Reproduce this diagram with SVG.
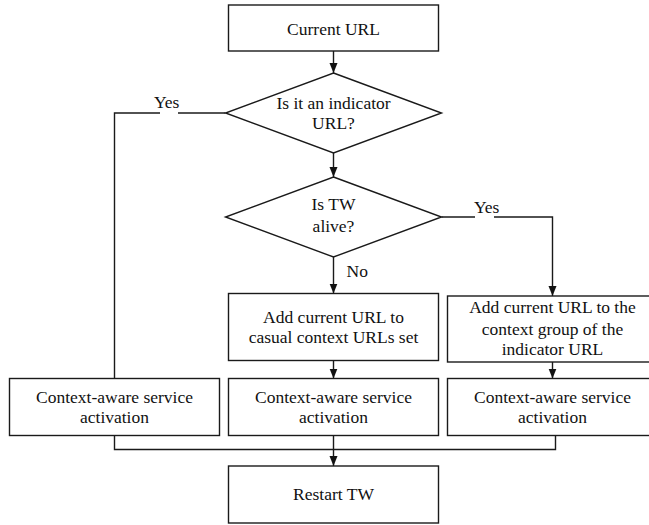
<svg xmlns="http://www.w3.org/2000/svg" width="649" height="525" viewBox="0 0 649 525">
<defs>
<style>
.box{fill:#fff;stroke:#1a1a1a;stroke-width:1.4}
.ln{fill:none;stroke:#1a1a1a;stroke-width:1.4}
text{font-family:'Liberation Serif','DejaVu Serif',serif;font-size:17.5px;fill:#111;text-anchor:middle}
</style>
<marker id="ah" viewBox="0 0 10 10" refX="10" refY="5" markerWidth="10" markerHeight="10" markerUnits="userSpaceOnUse" orient="auto">
<path d="M0,1 L10,5 L0,9 Z" fill="#111"/>
</marker>
</defs>
<rect width="649" height="525" fill="#fff"/>
<g id="connectors">
<path class="ln" d="M333.5,51 V73" marker-end="url(#ah)"/>
<path class="ln" d="M333.5,153 V177" marker-end="url(#ah)"/>
<path class="ln" d="M225.5,113 H178"/>
<path class="ln" d="M160,113 H114.5 V378.5"/>
<path class="ln" d="M441.5,217 H475"/>
<path class="ln" d="M494,217 H552.5 V296" marker-end="url(#ah)"/>
<path class="ln" d="M333.5,257 V293.5" marker-end="url(#ah)"/>
<path class="ln" d="M333.5,360.5 V378.5" marker-end="url(#ah)"/>
<path class="ln" d="M552.5,362 V378.5" marker-end="url(#ah)"/>
<path class="ln" d="M114.5,435.5 V449.5 H555.5 V435.5"/>
<path class="ln" d="M333.5,435.5 V466" marker-end="url(#ah)"/>
<text x="166.7" y="108">Yes</text>
<text x="486.7" y="213">Yes</text>
<text x="346.5" y="277" style="text-anchor:start">No</text>
</g>
<g id="current-url">
<rect class="box" x="228.5" y="5" width="210" height="46"/>
<text x="333.5" y="35">Current URL</text>
</g>
<g id="is-indicator">
<polygon class="box" points="333.5,73 441.5,113 333.5,153 225.5,113"/>
<text x="333.5" y="108.5">Is it an indicator</text>
<text x="333.5" y="129">URL?</text>
</g>
<g id="is-tw-alive">
<polygon class="box" points="333.5,177 441.5,217 333.5,257 225.5,217"/>
<text x="333.5" y="210">Is TW</text>
<text x="333.5" y="231.5">alive?</text>
</g>
<g id="add-casual">
<rect class="box" x="228.5" y="293.5" width="210" height="67"/>
<text x="333.5" y="322.7">Add current URL to</text>
<text x="333.5" y="343.3">casual context URLs set</text>
</g>
<g id="add-group">
<rect class="box" x="447.5" y="296" width="211" height="66"/>
<text x="552.5" y="312.7">Add current URL to the</text>
<text x="552.5" y="335">context group of the</text>
<text x="552.5" y="355.3">indicator URL</text>
</g>
<g id="activation-left">
<rect class="box" x="9.5" y="378.5" width="210" height="57"/>
<text x="114.5" y="402.7">Context-aware service</text>
<text x="114.5" y="423">activation</text>
</g>
<g id="activation-mid">
<rect class="box" x="228.5" y="378.5" width="210" height="57"/>
<text x="333.5" y="402.7">Context-aware service</text>
<text x="333.5" y="423">activation</text>
</g>
<g id="activation-right">
<rect class="box" x="447.5" y="378.5" width="211" height="57"/>
<text x="552.5" y="402.7">Context-aware service</text>
<text x="552.5" y="423">activation</text>
</g>
<g id="restart-tw">
<rect class="box" x="228.5" y="466" width="210" height="57"/>
<text x="333.5" y="500">Restart TW</text>
</g>
</svg>
